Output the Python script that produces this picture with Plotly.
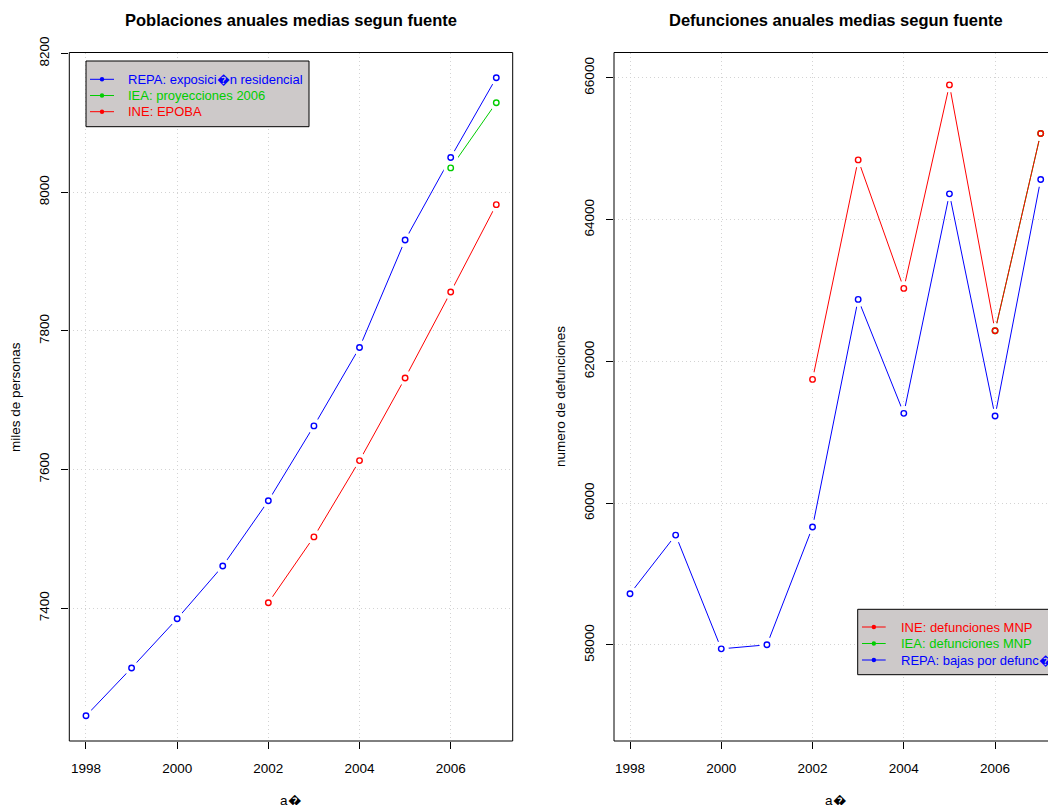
import plotly.graph_objects as go

# ---------------- data ----------------
years = [1998, 1999, 2000, 2001, 2002, 2003, 2004, 2005, 2006, 2007]
pob_repa = [7245, 7314, 7385, 7461, 7555, 7663, 7776, 7931, 8050, 8165]
years_iea = [2006, 2007]
pob_iea = [8035, 8129]
years_ine = [2002, 2003, 2004, 2005, 2006, 2007]
pob_ine = [7408, 7503, 7613, 7732, 7856, 7982]

def_repa = [58722, 59550, 57945, 58002, 59663, 62875, 61267, 64364, 61229, 64567]
def_ine = [61746, 64843, 63030, 65901, 62432, 65216]
def_iea = [62432, 65216]

x_ticks = [1998, 2000, 2002, 2004, 2006]
y1_ticks = [7400, 7600, 7800, 8000, 8200]
y2_ticks = [58000, 60000, 62000, 64000, 66000]

title_left = "Poblaciones anuales medias segun fuente"
title_right = "Defunciones anuales medias segun fuente"
xlab = "a\ufffd"
ylab_left = "miles de personas"
ylab_right = "numero de defunciones"
leg_left = ["REPA: exposici\ufffdn residencial", "IEA: proyecciones 2006", "INE: EPOBA"]
leg_right = ["INE: defunciones MNP", "IEA: defunciones MNP", "REPA: bajas por defunc\ufffdi\ufffdn"]

BLUE = "#0000FF"
GREEN = "#00CD00"
RED = "#FF0000"
W, H = 1048, 805
FONT = "Liberation Sans, Arial, sans-serif"


def P(px, py):
    return px / W, 1 - py / H


fig = go.Figure()


def add_series(x, y, color, xa, ya):
    fig.add_trace(go.Scatter(x=x, y=y, mode="lines", line=dict(color=color, width=1),
                             xaxis=xa, yaxis=ya, showlegend=False, hoverinfo="skip"))


def add_masks(x, y, xa, ya):
    fig.add_trace(go.Scatter(x=x, y=y, mode="markers",
                             marker=dict(color="white", size=15, line=dict(width=0)),
                             xaxis=xa, yaxis=ya, showlegend=False, hoverinfo="skip"))


def add_points(x, y, color, xa, ya):
    fig.add_trace(go.Scatter(x=x, y=y, mode="markers",
                             marker=dict(symbol="circle-open", color=color, size=5.5,
                                         line=dict(color=color, width=1.4)),
                             xaxis=xa, yaxis=ya, showlegend=False))


# left panel
add_series(years, pob_repa, BLUE, "x", "y")
add_series(years_iea, pob_iea, GREEN, "x", "y")
add_series(years_ine, pob_ine, RED, "x", "y")
add_masks(years + years_iea + years_ine, pob_repa + pob_iea + pob_ine, "x", "y")
add_points(years, pob_repa, BLUE, "x", "y")
add_points(years_iea, pob_iea, GREEN, "x", "y")
add_points(years_ine, pob_ine, RED, "x", "y")

# right panel
add_series(years, def_repa, BLUE, "x2", "y2")
add_series(years_iea, def_iea, GREEN, "x2", "y2")
add_series(years_ine, def_ine, RED, "x2", "y2")
add_masks(years + years_iea + years_ine, def_repa + def_iea + def_ine, "x2", "y2")
add_points(years, def_repa, BLUE, "x2", "y2")
add_points(years_iea, def_iea, GREEN, "x2", "y2")
add_points(years_ine, def_ine, RED, "x2", "y2")

ydom = [1 - 741 / H, 1 - 52.5 / H]
axis_common = dict(
    showgrid=True, gridcolor="#D3D3D3", griddash="1px,3px", gridwidth=1,
    zeroline=False, showline=False, ticks="outside", ticklen=7, tickwidth=1,
    tickcolor="black", tickfont=dict(family=FONT, size=13.5, color="black"),
    automargin=False,
)

fig.update_layout(
    template="none",
    width=W, height=H, autosize=False,
    margin=dict(l=0, r=0, t=0, b=0, pad=0),
    paper_bgcolor="white", plot_bgcolor="white",
    font=dict(family=FONT, size=13, color="black"),
    xaxis=dict(domain=[69.3 / W, 512.7 / W], range=[1997.634, 2007.36],
               tickvals=x_ticks, anchor="y", ticklabelstandoff=8, **axis_common),
    yaxis=dict(domain=ydom, range=[7208.7, 8201.4], tickvals=y1_ticks,
               tickformat="d", tickangle=-90, anchor="x", ticklabelstandoff=7, **axis_common),
    xaxis2=dict(domain=[614 / W, 1.0], range=[1997.649, 2007.16],
                tickvals=x_ticks, anchor="y2", ticklabelstandoff=8, **axis_common),
    yaxis2=dict(domain=ydom, range=[56645, 66358], tickvals=y2_ticks,
                tickformat="d", tickangle=-90, anchor="x2", ticklabelstandoff=7, **axis_common),
)

shapes = []
# plot boxes
x0, y0 = P(69.3, 741)
x1, y1 = P(512.7, 52.5)
shapes.append(dict(type="rect", xref="paper", yref="paper", x0=x0, y0=y0, x1=x1, y1=y1,
                   line=dict(color="black", width=1), layer="above"))
x0, y0 = P(614, 741)
x1, y1 = P(1060, 52.5)
shapes.append(dict(type="rect", xref="paper", yref="paper", x0=x0, y0=y0, x1=x1, y1=y1,
                   line=dict(color="black", width=1), layer="above"))

annotations = []


def legend(box, line_x, text_x, rows, labels, colors):
    bx0, by0 = P(box[0], box[3])
    bx1, by1 = P(box[2], box[1])
    shapes.append(dict(type="rect", xref="paper", yref="paper", x0=bx0, y0=by0, x1=bx1, y1=by1,
                       fillcolor="#CDC9C9", line=dict(color="black", width=1), layer="above"))
    for ry, lab, col in zip(rows, labels, colors):
        a0, yy = P(line_x[0], ry)
        a1, _ = P(line_x[1], ry)
        shapes.append(dict(type="line", xref="paper", yref="paper", x0=a0, x1=a1, y0=yy, y1=yy,
                           line=dict(color=col, width=1), layer="above"))
        cx = (line_x[0] + line_x[1]) / 2
        c0x, c0y = P(cx - 2.2, ry + 2.2)
        c1x, c1y = P(cx + 2.2, ry - 2.2)
        shapes.append(dict(type="circle", xref="paper", yref="paper", x0=c0x, y0=c0y, x1=c1x, y1=c1y,
                           fillcolor=col, line=dict(color=col, width=0), layer="above"))
        tx, ty = P(text_x, ry)
        annotations.append(dict(x=tx, y=ty, xref="paper", yref="paper", text=lab,
                                showarrow=False, xanchor="left", yanchor="middle",
                                font=dict(family=FONT, size=13, color=col)))


legend((86, 61, 309, 126.7), (90, 114), 126, [79.3, 95.5, 111.7], leg_left, [BLUE, GREEN, RED])
legend((857.7, 609.3, 1070, 674.7), (862, 885.7), 898.7, [627, 643.5, 660], leg_right, [RED, GREEN, BLUE])


def ann(px, py, text, size=13.5, bold=False, angle=0):
    x, y = P(px, py)
    t = "<b>" + text + "</b>" if bold else text
    annotations.append(dict(x=x, y=y, xref="paper", yref="paper", text=t, showarrow=False,
                            xanchor="center", yanchor="middle", textangle=angle,
                            font=dict(family=FONT, size=size, color="black")))


ann(291, 20, title_left, size=16.5, bold=True)
ann(835.7, 20, title_right, size=16.5, bold=True)
ann(291, 800, xlab)
ann(835.7, 800, xlab)
ann(15, 397, ylab_left, angle=-90)
ann(560, 397, ylab_right, angle=-90)

fig.update_layout(shapes=shapes, annotations=annotations)

fig.write_html("out.html")
